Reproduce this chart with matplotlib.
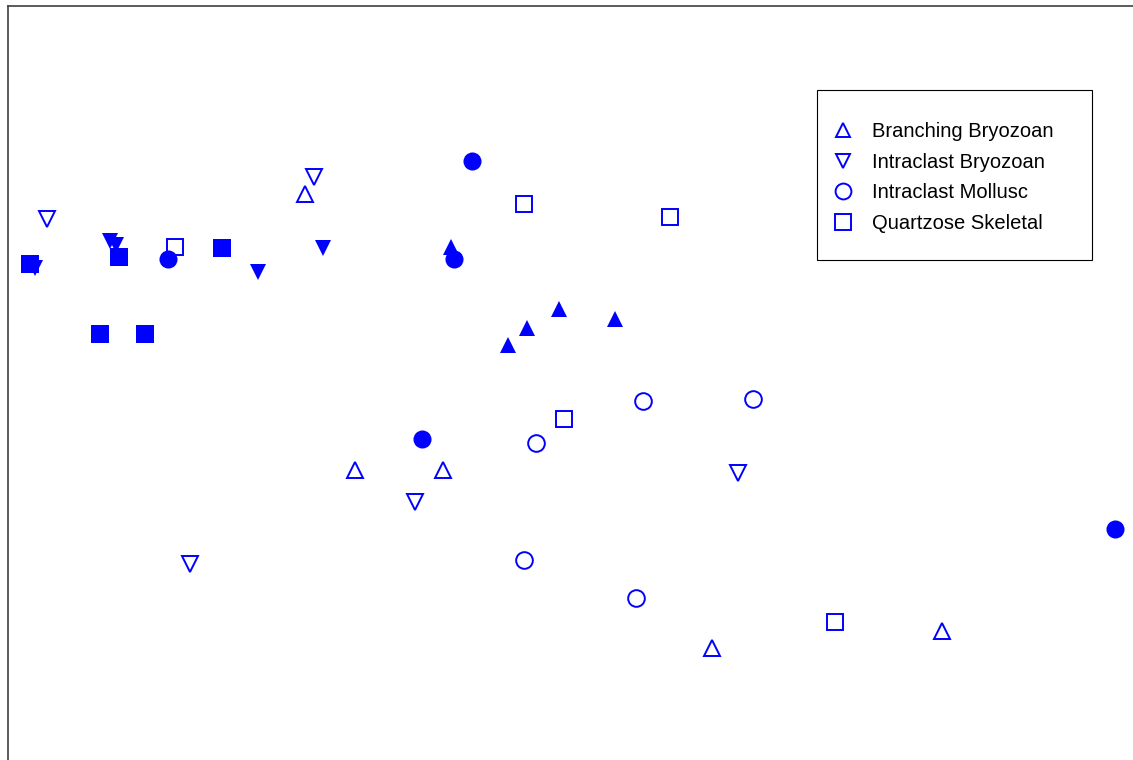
import matplotlib
matplotlib.use("Agg")
import matplotlib.pyplot as plt
from matplotlib.lines import Line2D
from matplotlib.patches import Rectangle

plt.rcParams['font.family'] = ['Liberation Sans', 'DejaVu Sans']

# MDS ordination coordinates per facies (open = first set, filled = second set)
branching_x = [3.05, 3.55, 4.43, 7.12, 9.42]
branching_y = [5.66, 2.90, 2.90, 1.12, 1.29]
intra_bryo_x = [0.47, 3.14, 1.90, 4.15, 7.38]
intra_bryo_y = [5.41, 5.83, 1.96, 2.58, 2.87]
intra_moll_x = [6.43, 7.53, 5.36, 5.24, 6.36]
intra_moll_y = [3.59, 3.61, 3.17, 2.00, 1.62]
quartz_x = [1.75, 5.24, 6.70, 5.64, 8.35]
quartz_y = [5.13, 5.56, 5.43, 3.41, 1.38]

branching_f_x = [4.51, 5.08, 5.27, 5.59, 6.15]
branching_f_y = [5.13, 4.15, 4.32, 4.51, 4.41]
intra_bryo_f_x = [0.35, 1.10, 1.16, 2.58, 3.23]
intra_bryo_f_y = [4.92, 5.19, 5.15, 4.88, 5.12]
intra_moll_f_x = [4.72, 1.68, 4.54, 4.22, 11.15]
intra_moll_f_y = [5.99, 5.01, 5.01, 3.21, 2.31]
quartz_f_x = [0.30, 1.19, 2.22, 1.00, 1.45]
quartz_f_y = [4.96, 5.03, 5.12, 4.26, 4.26]

labels = ['Branching Bryozoan', 'Intraclast Bryozoan', 'Intraclast Mollusc', 'Quartzose Skeletal']
blue = '#0000ff'

fig = plt.figure(figsize=(11.33, 7.6), dpi=100)
ax = fig.add_axes([8 / 1133, 0, 1125 / 1133, 754 / 760])
ax.set_xlim(0.08, 11.33)
ax.set_ylim(0, 7.54)

open_sets = [(branching_x, branching_y, '^', 11),
             (intra_bryo_x, intra_bryo_y, 'v', 11),
             (intra_moll_x, intra_moll_y, 'o', 12),
             (quartz_x, quartz_y, 's', 12)]
filled_sets = [(branching_f_x, branching_f_y, '^', 12),
               (intra_bryo_f_x, intra_bryo_f_y, 'v', 12),
               (intra_moll_f_x, intra_moll_f_y, 'o', 13),
               (quartz_f_x, quartz_f_y, 's', 13)]

for xs, ys, m, ms in filled_sets:
    ax.plot(xs, ys, linestyle='none', marker=m, markersize=ms,
            color=blue, markeredgewidth=0, clip_on=False)
for xs, ys, m, ms in open_sets:
    ax.plot(xs, ys, linestyle='none', marker=m, markersize=ms,
            markerfacecolor='none', markeredgecolor=blue, markeredgewidth=1.4)

# legend box drawn separately so the padding can be set freely
box = Rectangle((817 / 1133, 1 - 260 / 760), 275 / 1133, 170 / 760,
                transform=fig.transFigure, facecolor='white',
                edgecolor='black', linewidth=0.8, zorder=5)
fig.add_artist(box)

handles = [Line2D([], [], linestyle='none', marker=m, markersize=ms * 0.95,
                  markerfacecolor='none', markeredgecolor=blue, markeredgewidth=1.4)
           for _, _, m, ms in open_sets]
leg = fig.legend(handles, labels, loc='upper left',
                 bbox_to_anchor=(833 / 1133, 1 - 122 / 760),
                 fontsize=14.5, frameon=False,
                 borderpad=0, labelspacing=0.58, handlelength=1.0,
                 handletextpad=0.95, borderaxespad=0)
leg.set_zorder(6)

ax.set_xticks([])
ax.set_yticks([])
ax.spines['right'].set_visible(False)
ax.spines['bottom'].set_visible(False)
for s in ['left', 'top']:
    ax.spines[s].set_color('#404040')
    ax.spines[s].set_linewidth(1.2)

fig.savefig('out.png', dpi=100)
